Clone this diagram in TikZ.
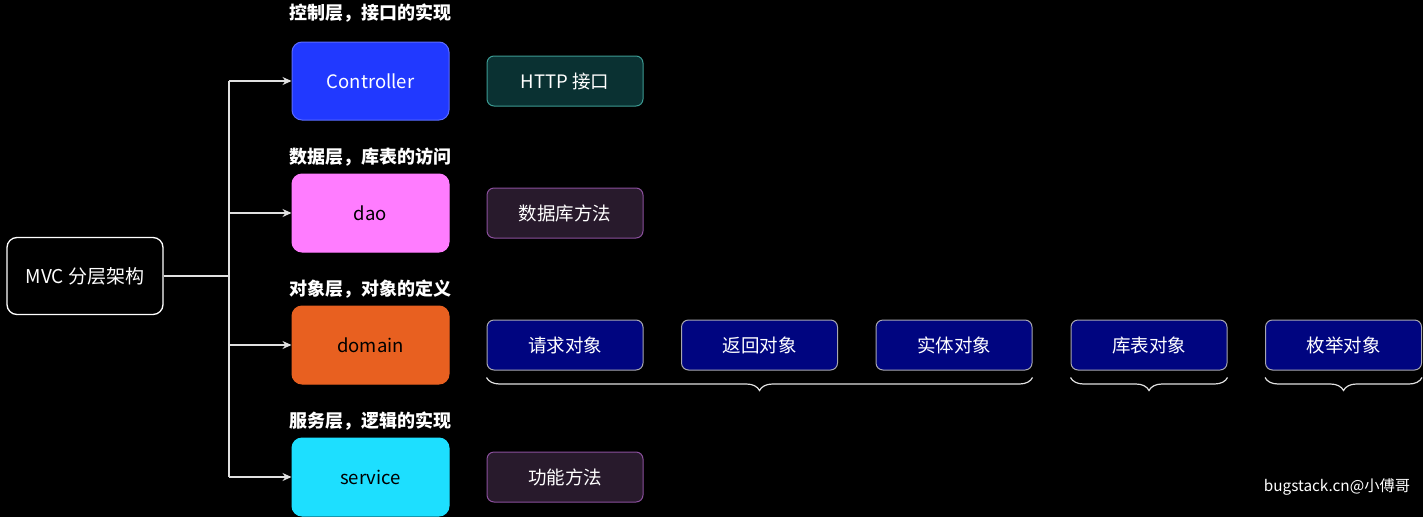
\documentclass[tikz,border=0pt]{standalone}
\usepackage{fontspec}
\setmainfont{Noto Sans CJK SC}
\usetikzlibrary{arrows.meta,decorations.pathreplacing}
\definecolor{ctrlfill}{HTML}{2139FF}
\definecolor{ctrledge}{HTML}{5A6BFF}
\definecolor{daofill}{HTML}{FF7CFF}
\definecolor{domfill}{HTML}{E86020}
\definecolor{svcfill}{HTML}{1DDFFF}
\definecolor{httpfill}{HTML}{0A3132}
\definecolor{httpedge}{HTML}{3C9A92}
\definecolor{methfill}{HTML}{281A2C}
\definecolor{methedge}{HTML}{8A4F9C}
\definecolor{objfill}{HTML}{000580}
\definecolor{objedge}{HTML}{A8A8B0}
\definecolor{linegray}{HTML}{E0E0E0}
\begin{document}
\begin{tikzpicture}[x=1pt,y=-1pt,
  layer/.style={rounded corners=10pt,minimum width=157pt,minimum height=78pt,inner sep=0pt,font=\fontsize{18.5}{21}\selectfont,line width=1pt},
  side/.style={rounded corners=7pt,minimum width=156pt,minimum height=50pt,inner sep=0pt,font=\fontsize{18.5}{21}\selectfont,text=white,line width=1pt},
  objbox/.style={side,fill=objfill,draw=objedge},
  captext/.style={font=\bfseries\fontsize{18}{21}\selectfont,text=white},
  conn/.style={draw=linegray,line width=1.3pt},
  arr/.style={conn,-{Stealth[length=9pt,width=8pt]}},
  bracestyle/.style={draw=linegray,line width=1.2pt,decorate,decoration={brace,mirror,amplitude=13pt}}
]
\fill[black] (0,0) rectangle (1423,517);
\useasboundingbox (0,0) rectangle (1423,517);

\node[draw=white,line width=1.3pt,rounded corners=10pt,minimum width=156pt,minimum height=77pt,inner sep=0pt,text=white,font=\fontsize{19}{22}\selectfont] (mvc) at (85,276) {MVC 分层架构};

\node[layer,fill=ctrlfill,draw=ctrledge,text=white] (ctrl) at (370.5,81) {Controller};
\node[layer,fill=daofill,draw=daofill,text=black] (dao) at (370.5,213) {dao};
\node[layer,fill=domfill,draw=domfill,text=black] (dom) at (370.5,345) {domain};
\node[layer,fill=svcfill,draw=svcfill,text=black] (svc) at (370.5,477) {service};

\node[captext] (capctrl) at (370,13) {控制层，接口的实现};
\node[captext] (capdao) at (370,157) {数据层，库表的访问};
\node[captext] (capdom) at (370,289) {对象层，对象的定义};
\node[captext] (capsvc) at (370,421) {服务层，逻辑的实现};

\node[side,fill=httpfill,draw=httpedge] (http) at (565,81) {HTTP 接口};
\node[side,fill=methfill,draw=methedge] (dbm) at (565,213) {数据库方法};
\node[side,fill=methfill,draw=methedge] (fn) at (565,477) {功能方法};

\node[objbox] (req) at (565,345) {请求对象};
\node[objbox] (ret) at (759.5,345) {返回对象};
\node[objbox] (ent) at (954,345) {实体对象};
\node[objbox] (tbl) at (1149,345) {库表对象};
\node[objbox] (enm) at (1343.5,345) {枚举对象};

\coordinate (j) at (229,276);
\coordinate (jt) at (229,81);
\coordinate (jb) at (229,477);
\draw[conn] (mvc.east) -- (j);
\draw[conn] (jt) -- (jb);
\draw[arr] (jt) -- (ctrl.west);
\draw[arr] (229,213) -- (dao.west);
\draw[arr] (229,345) -- (dom.west);
\draw[arr] (jb) -- (svc.west);

\draw[bracestyle] ([yshift=-7pt]req.south west) -- ([yshift=-7pt]ent.south east);
\draw[bracestyle] ([yshift=-7pt]tbl.south west) -- ([yshift=-7pt]tbl.south east);
\draw[bracestyle] ([yshift=-7pt]enm.south west) -- ([yshift=-7pt]enm.south east);

\node[text=white,font=\fontsize{15.3}{18}\selectfont] (wm) at (1337,487) {bugstack.cn@小傅哥};
\end{tikzpicture}
\end{document}
